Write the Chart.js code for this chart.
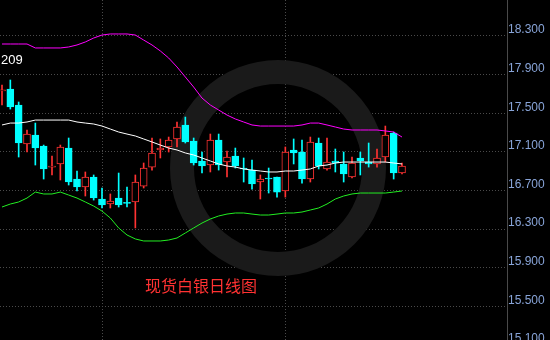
<!DOCTYPE html>
<html>
<head>
<meta charset="utf-8">
<script src="https://cdn.jsdelivr.net/npm/chart.js@4.4.0/dist/chart.umd.min.js"></script>
<style>
  html, body { margin: 0; padding: 0; background: #000; }
  #wrap { width: 550px; height: 340px; }
</style>
</head>
<body>
<div id="wrap"><canvas id="silver" width="550" height="340"></canvas></div>
<script>
// daily candles, oldest first
const opens = [17.730, 17.751, 17.585, 17.181, 17.274, 17.160, 16.942, 16.974, 17.139, 16.818,
  16.735, 16.839, 16.611, 16.559, 16.621, 16.574, 16.580, 16.745, 16.942, 17.119,
  17.150, 17.233, 17.378, 17.212, 17.005, 16.963, 17.222, 16.994, 17.056, 16.932,
  16.911, 16.787, 16.829, 16.839, 16.694, 17.119, 17.098, 16.818, 17.191, 16.922,
  17.005, 16.974, 16.839, 17.036, 16.994, 16.974, 17.046, 17.295, 16.880];
const highs = [17.792, 17.844, 17.616, 17.326, 17.398, 17.170, 17.056, 17.170, 17.243, 16.901,
  16.891, 16.860, 16.725, 16.663, 16.880, 16.735, 16.860, 16.984, 17.243, 17.233,
  17.253, 17.409, 17.460, 17.243, 17.098, 17.284, 17.284, 17.108, 17.139, 17.036,
  17.015, 16.860, 16.932, 16.839, 17.150, 17.233, 17.222, 17.253, 17.243, 17.243,
  17.129, 17.098, 17.046, 17.098, 17.191, 17.129, 17.367, 17.305, 16.984];
const lows = [17.585, 17.543, 17.046, 17.098, 16.963, 16.818, 16.860, 16.808, 16.756, 16.694,
  16.642, 16.600, 16.518, 16.518, 16.528, 16.528, 16.311, 16.725, 16.911, 17.036,
  17.098, 17.150, 17.191, 16.963, 16.880, 16.891, 16.911, 16.839, 16.932, 16.787,
  16.714, 16.611, 16.673, 16.631, 16.631, 16.974, 16.776, 16.787, 16.922, 16.911,
  16.891, 16.787, 16.829, 16.860, 16.942, 16.942, 16.994, 16.818, 16.870];
const closes = [17.741, 17.564, 17.191, 17.284, 17.139, 16.922, 16.953, 17.150, 16.787, 16.735,
  16.839, 16.621, 16.549, 16.590, 16.549, 16.566, 16.787, 16.932, 17.088, 17.139,
  17.222, 17.357, 17.202, 16.984, 16.953, 17.222, 16.963, 17.046, 16.953, 16.922,
  16.766, 16.818, 16.818, 16.683, 17.098, 17.088, 16.818, 17.202, 16.953, 16.994,
  16.984, 16.870, 16.984, 17.005, 16.974, 17.036, 17.274, 16.880, 16.953];

// bollinger bands
const upper = [18.217, 18.217, 18.217, 18.217, 18.176, 18.176, 18.176, 18.176, 18.186, 18.207,
  18.238, 18.279, 18.310, 18.321, 18.321, 18.321, 18.310, 18.258, 18.207, 18.145,
  18.072, 17.979, 17.875, 17.771, 17.657, 17.585, 17.533, 17.481, 17.440, 17.409,
  17.378, 17.367, 17.367, 17.367, 17.367, 17.367, 17.378, 17.398, 17.398, 17.378,
  17.357, 17.336, 17.326, 17.326, 17.326, 17.326, 17.316, 17.305, 17.253];
const middle = [17.378, 17.398, 17.398, 17.409, 17.429, 17.429, 17.429, 17.429, 17.429, 17.409,
  17.398, 17.388, 17.367, 17.336, 17.305, 17.284, 17.264, 17.233, 17.202, 17.170,
  17.139, 17.119, 17.088, 17.067, 17.036, 17.005, 16.974, 16.953, 16.942, 16.922,
  16.911, 16.901, 16.891, 16.891, 16.901, 16.901, 16.911, 16.922, 16.953, 16.963,
  16.984, 16.994, 16.994, 16.994, 16.994, 16.994, 16.994, 16.984, 16.974];
const lower = [16.528, 16.559, 16.580, 16.621, 16.683, 16.663, 16.663, 16.683, 16.652, 16.621,
  16.580, 16.538, 16.486, 16.414, 16.311, 16.238, 16.197, 16.176, 16.176, 16.176,
  16.186, 16.207, 16.259, 16.311, 16.362, 16.404, 16.435, 16.455, 16.466, 16.466,
  16.455, 16.445, 16.445, 16.455, 16.466, 16.466, 16.476, 16.497, 16.518, 16.559,
  16.611, 16.642, 16.663, 16.673, 16.673, 16.673, 16.673, 16.683, 16.694];

const priceTicks = [15.1, 15.5, 15.9, 16.3, 16.7, 17.1, 17.5, 17.9, 18.3];
const monthStarts = [12, 34];   // candle index where a new month begins
const title = '现货白银日线图';
const cornerLabel = '209';

const RED = '#ff3232';
const CYAN = '#00ffff';
const isUp = opens.map((o, i) => closes[i] >= o);

const decorations = {
  id: 'decorations',
  beforeDraw(chart) {
    const ctx = chart.ctx;
    ctx.save();
    ctx.fillStyle = '#000';
    ctx.fillRect(0, 0, chart.width, chart.height);
    ctx.restore();
  },
  beforeDatasetsDraw(chart) {
    // faint watermark ring
    const ctx = chart.ctx;
    ctx.save();
    ctx.strokeStyle = '#1a1a1a';
    ctx.lineWidth = 24;
    ctx.beginPath();
    ctx.arc(278, 168, 96, 0, Math.PI * 2);
    ctx.stroke();
    ctx.restore();
  },
  afterDatasetsDraw(chart) {
    const ctx = chart.ctx;
    ctx.save();
    ctx.textBaseline = 'middle';
    ctx.fillStyle = '#ffffff';
    ctx.font = '13px "Liberation Sans", Arial, sans-serif';
    ctx.fillText(cornerLabel, 1, 60);
    ctx.fillStyle = RED;
    ctx.font = '16px "Noto Sans CJK SC", sans-serif';
    ctx.fillText(title, 145, 286);
    ctx.restore();
  }
};

function noPad(s) {
  s.paddingTop = 0;
  s.paddingBottom = 0;
  s.paddingLeft = 0;
  s.paddingRight = 0;
}

new Chart(document.getElementById('silver'), {
  type: 'bar',
  data: {
    datasets: [
      {
        type: 'line',
        data: upper.map((v, i) => ({x: i, y: v})),
        borderColor: '#ff00ff',
        borderWidth: 1,
        pointRadius: 0,
        order: 0
      },
      {
        type: 'line',
        data: middle.map((v, i) => ({x: i, y: v})),
        borderColor: '#ffffff',
        borderWidth: 1,
        pointRadius: 0,
        order: 0
      },
      {
        type: 'line',
        data: lower.map((v, i) => ({x: i, y: v})),
        borderColor: '#22ee22',
        borderWidth: 1,
        pointRadius: 0,
        order: 0
      },
      {
        // candle bodies
        data: opens.map((o, i) => ({x: i, y: [o, closes[i]]})),
        backgroundColor: isUp.map(u => u ? '#000' : CYAN),
        borderColor: isUp.map(u => u ? RED : CYAN),
        borderWidth: 1,
        borderSkipped: false,
        barThickness: 7,
        minBarLength: 1,
        grouped: false,
        order: 1
      },
      {
        // wicks
        data: lows.map((l, i) => ({x: i, y: [l, highs[i]]})),
        backgroundColor: isUp.map(u => u ? RED : CYAN),
        borderWidth: 0,
        barThickness: 1,
        grouped: false,
        order: 2
      }
    ]
  },
  options: {
    responsive: false,
    animation: false,
    layout: { padding: 0 },
    plugins: {
      legend: { display: false },
      tooltip: { enabled: false }
    },
    scales: {
      x: {
        type: 'linear',
        offset: false,
        min: -0.24,
        max: 60.6,
        afterBuildTicks: s => { s.ticks = monthStarts.map(v => ({value: v})); },
        afterFit: s => { s.height = 0; noPad(s); },
        ticks: { display: false },
        grid: { color: '#4a4a4a', drawTicks: false, offset: false },
        border: { display: false, dash: [1, 2] }
      },
      y: {
        position: 'right',
        min: 15.15,
        max: 18.673,
        afterBuildTicks: s => { s.ticks = priceTicks.map(v => ({value: v})); },
        afterFit: s => { s.width = 43; noPad(s); },
        ticks: {
          color: '#88a4d8',
          padding: 1,
          labelOffset: -6,
          font: { family: '"Liberation Sans", Arial, sans-serif', size: 12 },
          callback: v => Number(v).toFixed(3)
        },
        grid: { color: '#4a4a4a', drawTicks: false },
        border: { display: true, color: '#4a4a4a', width: 1, dash: [1, 2] }
      }
    }
  },
  plugins: [decorations]
});
</script>
</body>
</html>
